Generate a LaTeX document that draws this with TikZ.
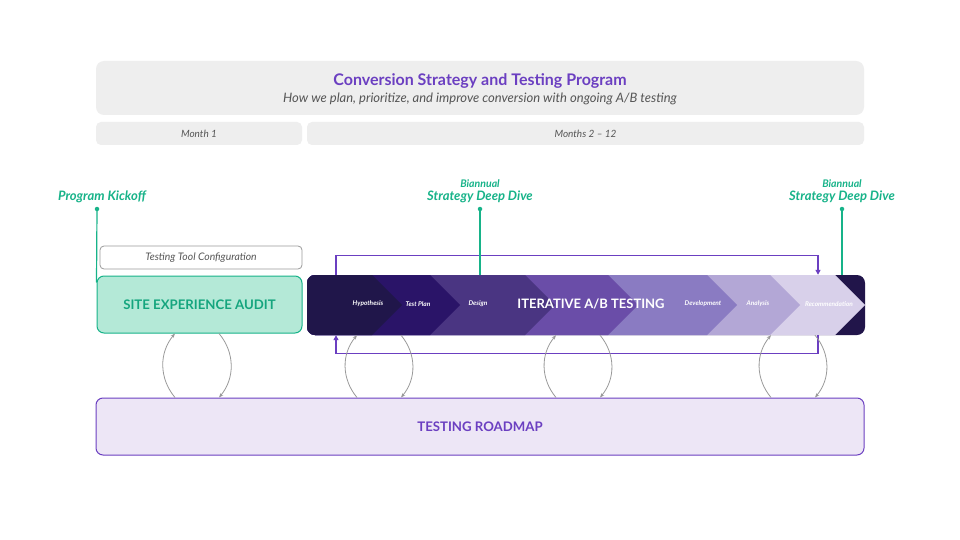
\documentclass[tikz,border=0pt]{standalone}
\usepackage{fontspec}
\setmainfont{Lato}
\usetikzlibrary{arrows.meta,calc}
\definecolor{hdrgray}{HTML}{EEEEEE}
\definecolor{txtgray}{HTML}{555555}
\definecolor{purp}{HTML}{6B3FC1}
\definecolor{grn}{HTML}{17B389}
\definecolor{mint}{HTML}{B4E9D7}
\definecolor{lav}{HTML}{EDE6F6}
\definecolor{cycgray}{HTML}{9A9A9A}
\definecolor{segA}{HTML}{20164A}
\definecolor{segB}{HTML}{2A1468}
\definecolor{segC}{HTML}{4A3582}
\definecolor{segD}{HTML}{6A4DA8}
\definecolor{segE}{HTML}{8A7BC2}
\definecolor{segF}{HTML}{B3A7D6}
\definecolor{segG}{HTML}{D8D0EA}
\definecolor{segEnd}{HTML}{21154A}
\begin{document}
\begin{tikzpicture}[x=1pt,y=-1pt,
  graybox/.style={fill=hdrgray,rounded corners=5pt,inner sep=0pt},
  monthtxt/.style={font=\fontsize{10}{12}\selectfont\itshape,text=txtgray},
  chevlbl/.style={font=\fontsize{6.5}{8}\selectfont\bfseries\itshape,text=white},
  gline/.style={draw=grn,line width=1.2pt},
  gdot/.style={circle,fill=grn,inner sep=0pt,minimum size=4.5pt},
  gtxt/.style={font=\fontsize{13}{15}\selectfont\bfseries\itshape,text=grn},
  gsmall/.style={font=\fontsize{10.5}{12}\selectfont\bfseries\itshape,text=grn},
  ploop/.style={draw=purp,line width=1.3pt,-{Triangle[length=5pt,width=5pt]}},
  cyc/.style={draw=cycgray,line width=0.8pt,-{Stealth[length=4.5pt,width=3.5pt]}}
]
\useasboundingbox (0,0) rectangle (960,540);
\fill[white] (0,0) rectangle (960,540);

% header
\node[graybox,minimum width=768pt,minimum height=54pt,rounded corners=8pt] (hdr) at (480,88) {};
\node[font=\fontsize{16}{19}\selectfont\bfseries,text=purp] (title) at (480,81) {Conversion Strategy and Testing Program};
\node[font=\fontsize{13}{15}\selectfont\itshape,text=txtgray] (sub) at (480,99) {How we plan, prioritize, and improve conversion with ongoing A/B testing};
\node[graybox,minimum width=206pt,minimum height=23pt,monthtxt] (m1) at (199,133.5) {Month 1};
\node[graybox,minimum width=557pt,minimum height=23pt,monthtxt] (m2) at (585.5,133.5) {Months 2 – 12};

% config + audit
\node[draw=cycgray,fill=white,line width=0.8pt,rounded corners=4pt,minimum width=202pt,minimum height=23pt,inner sep=0pt,
      font=\fontsize{10.4}{12}\selectfont\itshape,text=txtgray] (config) at (201,257.5) {Testing Tool Configuration};
\node[draw=grn,fill=mint,line width=1pt,rounded corners=7pt,minimum width=205pt,minimum height=57pt,inner sep=0pt,
      font=\fontsize{13.2}{15}\selectfont\bfseries,text=grn!92!black] (audit) at (199.5,304.5) {SITE EXPERIENCE AUDIT};

% iterative bar
\node[minimum width=558pt,minimum height=60pt,inner sep=0pt] (bar) at (586,305) {};
\begin{scope}
  \clip[rounded corners=8pt] (307,275) rectangle (865,335);
  \fill[segEnd] (300,270) rectangle (870,340);
  \foreach \t/\c in {835/segG,770/segF,707/segE,608/segD,525/segC,430/segB,372/segA}{
    \fill[\c] (300,270) -- (\t-5,270) -- (\t+30,305) -- (\t-5,340) -- (300,340) -- cycle;
  }
\end{scope}
\node[chevlbl] (l1) at (368,304) {Hypothesis};
\node[chevlbl] (l2) at (418,304) {Test Plan};
\node[chevlbl] (l3) at (478,304) {Design};
\node[font=\fontsize{13}{15}\selectfont\bfseries,text=white] (lmain) at (591,304) {ITERATIVE A/B TESTING};
\node[chevlbl] (l5) at (703,304) {Development};
\node[chevlbl] (l6) at (758,304) {Analysis};
\node[chevlbl] (l7) at (829,304) {Recommendation};

% roadmap
\node[draw=purp,fill=lav,line width=1pt,rounded corners=7pt,minimum width=768pt,minimum height=57pt,inner sep=0pt,
      font=\fontsize{13.2}{15}\selectfont\bfseries,text=purp] (roadmap) at (480,426.5) {TESTING ROADMAP};

% purple loop
\coordinate (lp) at (336,0);
\coordinate (rp) at (818,0);
\draw[ploop] (bar.north -| lp) -- ++(0,-19) -| (bar.north -| rp);
\draw[ploop] (bar.south -| rp) -- ++(0,18) -| (bar.south -| lp);

% green milestones
\node[gtxt] (kick) at (102,197) {Program Kickoff};
\node[gdot] (kdot) at (97,209) {};
\draw[gline] (kdot.center) -- ($(audit.north west)+(0,7)$);

\node[gsmall] (bi1) at (480,184) {Biannual};
\node[gtxt] (sd1) at (480,197) {Strategy Deep Dive};
\node[gdot] (d1) at (480,209) {};
\draw[gline] (d1.center) -- (bar.north -| d1);

\node[gsmall] (bi2) at (842,184) {Biannual};
\node[gtxt] (sd2) at (842,197) {Strategy Deep Dive};
\node[gdot] (d2) at (842,209) {};
\draw[gline] (d2.center) -- (bar.north -| d2);

% cycles
\foreach \cx [count=\i] in {197,379,578,793}{
  \coordinate (cl\i) at (\cx-22,0);
  \coordinate (cr\i) at (\cx+22,0);
}
\draw[cyc] (roadmap.north -| cl1) to[bend left=40] (audit.south -| cl1);
\draw[cyc] (audit.south -| cr1) to[bend left=40] (roadmap.north -| cr1);
\foreach \i in {2,3,4}{
  \draw[cyc] (roadmap.north -| cl\i) to[bend left=40] (bar.south -| cl\i);
  \draw[cyc] (bar.south -| cr\i) to[bend left=40] (roadmap.north -| cr\i);
}
\end{tikzpicture}
\end{document}
